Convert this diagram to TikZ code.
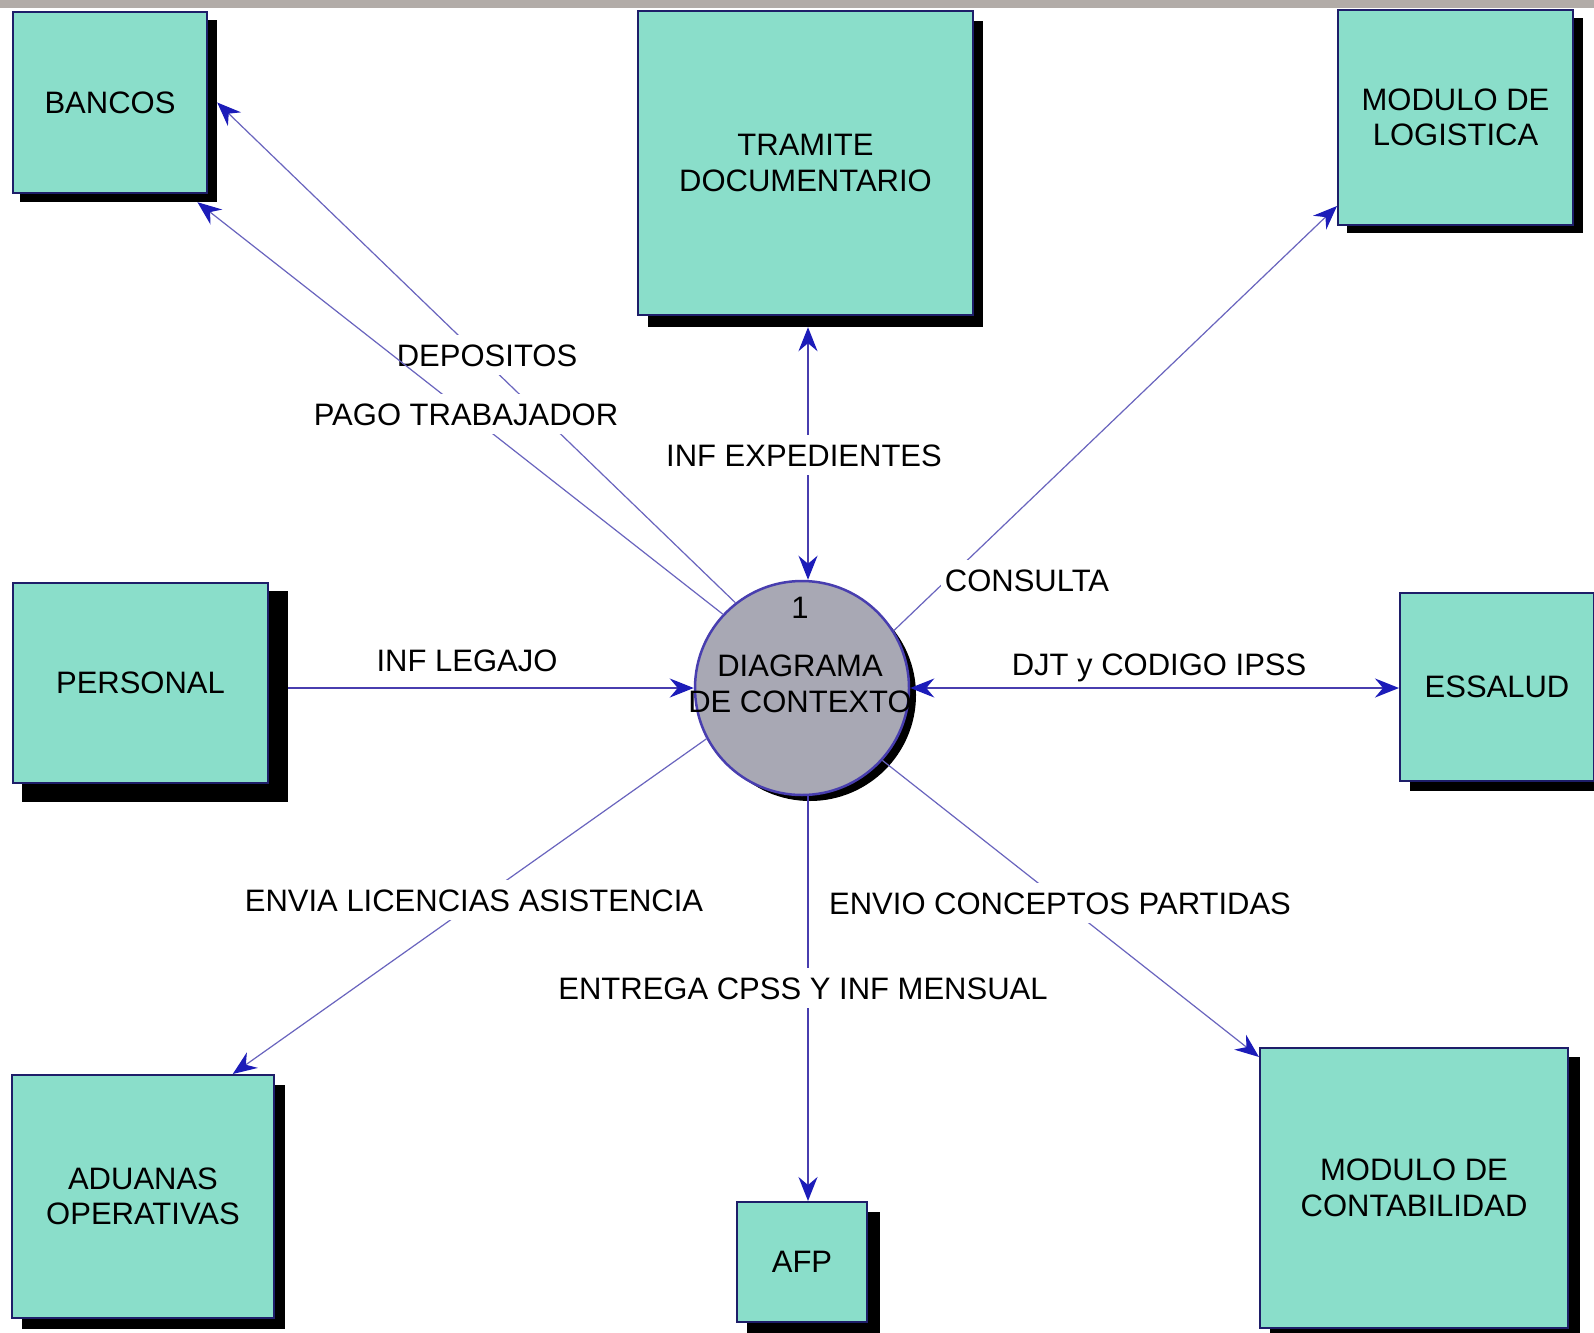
\documentclass[tikz,border=0pt]{standalone}
\usepackage{fontspec}
\setmainfont{Liberation Sans}
\usetikzlibrary{arrows.meta,calc}

\definecolor{boxfill}{RGB}{138,222,202}
\definecolor{boxline}{RGB}{30,30,105}
\definecolor{flow}{RGB}{72,62,175}
\definecolor{flowlight}{RGB}{105,100,190}
\definecolor{tipblue}{RGB}{28,28,185}
\definecolor{procfill}{RGB}{168,168,180}
\definecolor{topbar}{RGB}{178,172,168}

\tikzset{
  textfont/.style={font=\fontsize{31}{35.5}\selectfont},
  entity/.style={draw=boxline, line width=2pt, fill=boxfill, inner sep=0pt,
    align=center, textfont},
  shadowbox/.style={fill=black, inner sep=0pt},
  plain/.style={inner sep=0pt, align=center, textfont},
  flowlabel/.style={fill=white, inner xsep=4pt, inner ysep=9pt,
    text height=22pt, text depth=0pt, textfont},
  flowline/.style={draw=flow, line width=2pt},
  thinflow/.style={draw=flowlight, line width=1.2pt},
}

\begin{document}
\begin{tikzpicture}[x=1pt,y=-1pt,
  >={Stealth[length=24pt,width=19pt,inset=8pt,color=tipblue]}]
\useasboundingbox (0,0) rectangle (1594,1332);
\clip (0,0) rectangle (1594,1332);
\fill[white] (0,0) rectangle (1594,1332);
\fill[topbar] (0,0) rectangle (1594,8);

% external entities with their drop shadows
\node[shadowbox, minimum width=197pt, minimum height=182pt] (bancos-sh) at (118.5,111) {};
\node[entity, minimum width=194pt, minimum height=181pt] (bancos) at (110,102.5) {BANCOS};

\node[shadowbox, minimum width=335pt, minimum height=306pt] (tramite-sh) at (815.5,174) {};
\node[entity, minimum width=335pt, minimum height=304pt] (tramite) at (805.5,163) {TRAMITE\\DOCUMENTARIO};

\node[shadowbox, minimum width=236pt, minimum height=215pt] (logistica-sh) at (1465,125.5) {};
\node[entity, minimum width=235pt, minimum height=215pt] (logistica) at (1455.5,117.5) {MODULO DE\\LOGISTICA};

\node[shadowbox, minimum width=266pt, minimum height=211pt] (personal-sh) at (155,696.5) {};
\node[entity, minimum width=255pt, minimum height=200pt] (personal) at (140.5,683) {PERSONAL};

\node[shadowbox, minimum width=194pt, minimum height=190pt] (essalud-sh) at (1507,696) {};
\node[entity, minimum width=194pt, minimum height=188pt] (essalud) at (1497,687) {ESSALUD};

\node[shadowbox, minimum width=263pt, minimum height=244pt] (aduanas-sh) at (153.5,1207) {};
\node[entity, minimum width=262pt, minimum height=243pt] (aduanas) at (143,1196.5) {ADUANAS\\OPERATIVAS};

\node[shadowbox, minimum width=133pt, minimum height=124pt] (afp-sh) at (813.5,1274) {};
\node[entity, minimum width=130pt, minimum height=120pt] (afp) at (802,1262) {AFP};

\node[shadowbox, minimum width=310pt, minimum height=283pt] (contab-sh) at (1425,1198.5) {};
\node[entity, minimum width=308pt, minimum height=280pt] (contab) at (1414,1188) {MODULO DE\\CONTABILIDAD};

% the process
\node[circle, fill=black, minimum size=212pt, inner sep=0pt] (ctx-sh) at (810,695) {};
\node[circle, draw=flow, line width=2.5pt, fill=procfill, minimum size=214pt, inner sep=0pt] (ctx) at (802,688) {};
\node[plain] (ctx-num) at (800,608) {1};
\node[plain] (ctx-name) at (800,684) {DIAGRAMA\\DE CONTEXTO};

% data flows
\draw[thinflow, ->] (ctx.128) -- (bancos-sh.east |- bancos.east);
\node[flowlabel] (l-dep) at (487,355) {DEPOSITOS};

\draw[thinflow, ->] (ctx.137) -- ($(bancos-sh.south west)!0.9!(bancos-sh.south east)$);
\node[flowlabel] (l-pago) at (466,414) {PAGO TRABAJADOR};

\coordinate (exptop) at ([xshift=6pt]ctx.north);
\draw[flowline, <->] (exptop) -- (exptop |- tramite-sh.south);
\node[flowlabel] (l-exp) at (804,455) {INF EXPEDIENTES};

\draw[thinflow, ->] (ctx.32) -- ([yshift=20pt]logistica.south west);
\node[flowlabel] (l-cons) at (1027,580) {CONSULTA};

\draw[flowline, ->] (personal-sh.east |- ctx.west) -- (ctx.west);
\node[flowlabel] (l-leg) at (467,660) {INF LEGAJO};

\draw[flowline, <->] (ctx.east) -- (ctx.east -| essalud.west);
\node[flowlabel] (l-djt) at (1159,664) {DJT y CODIGO IPSS};

\draw[thinflow, ->] (ctx.208) -- ($(aduanas.north west)!0.84!(aduanas.north east)$);
\node[flowlabel] (l-env) at (474,900) {ENVIA LICENCIAS ASISTENCIA};

\draw[thinflow, ->] (ctx.318) -- ([yshift=-10pt]contab.north west);
\node[flowlabel] (l-conc) at (1060,903) {ENVIO CONCEPTOS PARTIDAS};

\coordinate (entbot) at ([xshift=6pt]ctx.south);
\draw[flowline, ->] (entbot) -- (entbot |- afp.north);
\node[flowlabel] (l-ent) at (803,988) {ENTREGA CPSS Y INF MENSUAL};
\end{tikzpicture}
\end{document}
